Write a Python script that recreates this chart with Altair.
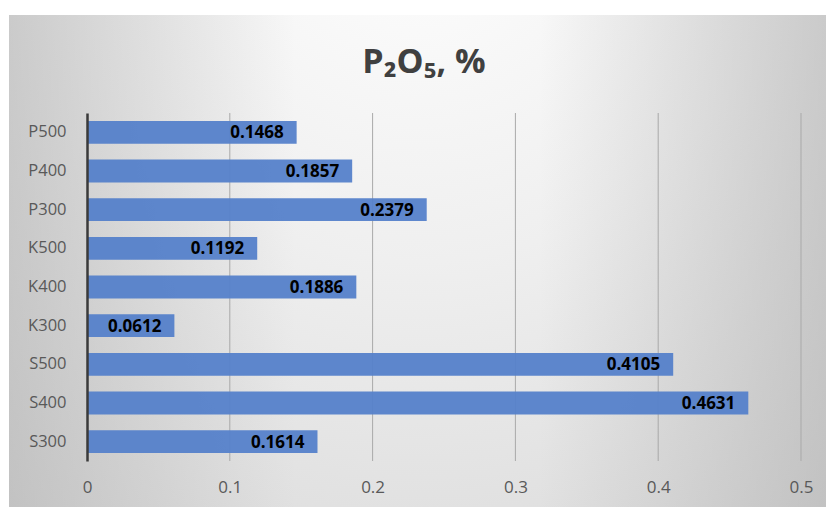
import altair as alt
import pandas as pd

# P2O5 content by sample
samples = ["P500", "P400", "P300", "K500", "K400", "K300", "S500", "S400", "S300"]
p2o5 = [0.1468, 0.1857, 0.2379, 0.1192, 0.1886, 0.0612, 0.4105, 0.4631, 0.1614]
x_ticks = [0, 0.1, 0.2, 0.3, 0.4, 0.5]

df = pd.DataFrame({"sample": samples, "p2o5": p2o5})
grid_df = pd.DataFrame({"p2o5": x_ticks[1:]})
one = pd.DataFrame({"k": [0]})

W, H = 714, 348          # plot area
L, T = 87, 113           # plot origin inside the page
FONT = "Open Sans"

# chart-area background: soft radial glow from the top centre, darker sides
glow = alt.Gradient(
    gradient="radial", x1=0.5, y1=0.05, r1=0, x2=0.5, y2=0.05, r2=1.0,
    stops=[alt.GradientStop(offset=0, color="#ffffff"),
           alt.GradientStop(offset=0.45, color="#efefef"),
           alt.GradientStop(offset=1, color="#d6d6d6")],
)
sides = alt.Gradient(
    gradient="linear", x1=0, y1=0, x2=1, y2=0,
    stops=[alt.GradientStop(offset=0, color="rgba(170,170,170,0.5)"),
           alt.GradientStop(offset=0.35, color="rgba(170,170,170,0)"),
           alt.GradientStop(offset=0.65, color="rgba(170,170,170,0)"),
           alt.GradientStop(offset=1, color="rgba(170,170,170,0.5)")],
)
bg_pos = dict(x=alt.value(9 - L), x2=alt.value(826 - L),
              y=alt.value(15 - T), y2=alt.value(507 - T))
bg = alt.Chart(one).mark_rect(fill=glow).encode(**bg_pos)
bg_sides = alt.Chart(one).mark_rect(fill=sides).encode(**bg_pos)

x_scale = alt.Scale(domain=[0, 0.5], nice=False, zero=True)
x_axis = alt.Axis(values=x_ticks, format=".1~f", title=None,
                  domain=False, ticks=False, grid=False, labelFlush=False,
                  labelPadding=18, labelFontSize=17,
                  labelColor="#595959", labelFont=FONT, zindex=1)

# vertical gridlines, kept behind the bars
grid = alt.Chart(grid_df).mark_rule(color="#a9a9a9", strokeWidth=1).encode(
    x=alt.X("p2o5:Q", scale=x_scale, axis=x_axis),
    y=alt.value(0), y2=alt.value(H),
)

y_enc = alt.Y("sample:N", sort=samples,
              scale=alt.Scale(paddingInner=0.41, paddingOuter=0.205),
              axis=alt.Axis(title=None, ticks=False, grid=False,
                            domainColor="#3a3a3a", domainWidth=2.5,
                            labelPadding=21, labelFontSize=16.5,
                            labelColor="#595959", labelFont=FONT, zindex=1))

bars = alt.Chart(df).mark_bar(color="#5581CA", opacity=0.95).encode(
    x=alt.X("p2o5:Q", scale=x_scale, axis=x_axis), y=y_enc)

labels = alt.Chart(df).mark_text(
    align="right", baseline="middle", dx=-13, dy=1, fontSize=17,
    fontWeight="bold", font=FONT, color="#000000",
).encode(x="p2o5:Q", y=alt.Y("sample:N", sort=samples),
         text=alt.Text("p2o5:Q", format=".4f"))

# chart heading
heading = alt.Chart(one).mark_text(
    text="P₂O₅, %", fontSize=34, font=FONT, fontWeight="bold",
    color="#404040", align="center", baseline="alphabetic",
).encode(x=alt.value(424 - L), y=alt.value(73 - T))

chart = alt.layer(bg, bg_sides, grid, bars, labels, heading).properties(
    width=W, height=H,
    autosize=alt.AutoSizeParams(type="none"),
    padding={"left": L, "top": T, "right": 826 - L - W, "bottom": 507 - T - H},
).configure(background="#ffffff").configure_view(stroke=None)

chart.save("out.html", embed_options={"renderer": "svg", "actions": False})
